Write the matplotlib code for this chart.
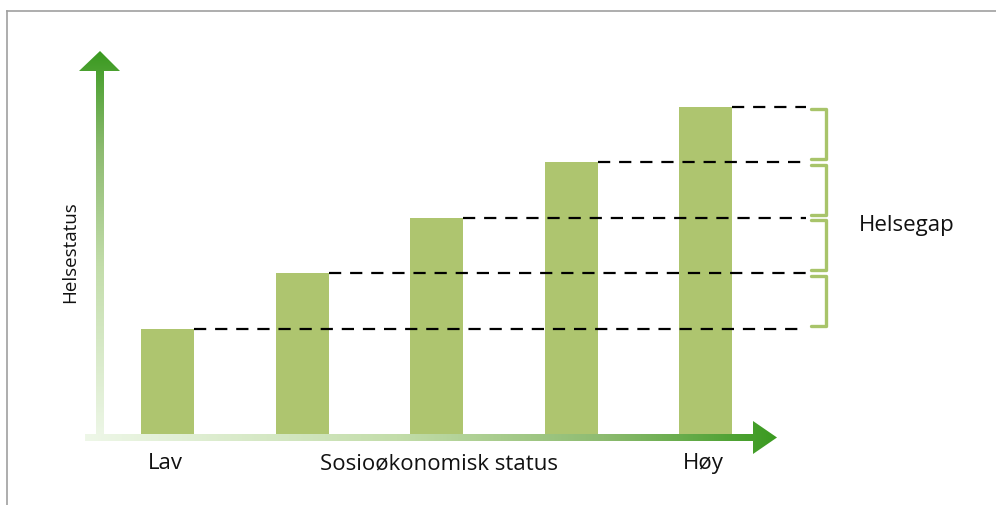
import matplotlib
matplotlib.use('Agg')
import matplotlib.pyplot as plt
import numpy as np
from matplotlib.patches import Polygon
from matplotlib.colors import LinearSegmentedColormap

# data
categories = ['1', '2', '3', '4', '5']
helsestatus = [1.9, 2.9, 3.9, 4.9, 5.9]
x_labels = ['Lav', 'Sosioøkonomisk status', 'Høy']
y_label = 'Helsestatus'
gap_label = 'Helsegap'

bar_color = '#aec56f'
brace_color = '#a8c46a'
FONT = 'Open Sans'

# pixel -> data helpers (image coords, y from top)
X0, DX = 167.5, 134.6
Y0, DY = 435.0, 55.5
def px(x):
    return (x - X0) / DX
def py(y):
    return (Y0 - y) / DY

fig = plt.figure(figsize=(9.96, 5.06), dpi=100)
ax = fig.add_axes([0, 0, 1, 1])
ax.axis('off')

# frame (top and left)
ax.plot([px(7), px(996)], [py(12), py(12)], color='#a0a0a0', lw=1.2)
ax.plot([px(7), px(7)], [py(12), py(506)], color='#a0a0a0', lw=1.2)

# bars
xpos = np.arange(len(categories))
bw = 53 / DX
ax.bar(xpos, helsestatus, width=bw, color=bar_color, zorder=2)

# dashed lines from each bar top
x_end = px(806)
for i, v in enumerate(helsestatus):
    ax.plot([xpos[i] + bw / 2, x_end], [v, v], color='black', lw=1.6,
            ls=(0, (5.5, 4)), zorder=3)

# braces between consecutive levels
xb0, xb1 = px(811), px(826)
for i in range(len(helsestatus) - 1):
    lo = helsestatus[i] + 0.05
    hi = helsestatus[i + 1] - 0.05
    ax.plot([xb0, xb1, xb1, xb0], [hi, hi, lo, lo], color=brace_color,
            lw=2.4, solid_joinstyle='round', solid_capstyle='round', zorder=3)

cmap = LinearSegmentedColormap.from_list('g', [
    (0.0, '#eef7e8'), (0.45, '#c3ddaa'), (0.75, '#8dbb70'), (1.0, '#3a9a20')])

def grad_arrow(poly_px, vertical):
    pts = [(px(a), py(b)) for a, b in poly_px]
    patch = Polygon(pts, closed=True, facecolor='none', edgecolor='none')
    ax.add_patch(patch)
    xs = [p[0] for p in pts]
    ys = [p[1] for p in pts]
    g = np.linspace(0, 1, 256)
    img = g[:, None] if vertical else g[None, :]
    im = ax.imshow(img, cmap=cmap, aspect='auto', origin='lower',
                   extent=[min(xs), max(xs), min(ys), max(ys)], zorder=4,
                   interpolation='bilinear')
    im.set_clip_path(patch)

# y arrow
grad_arrow([(96, 442), (104, 442), (104, 72), (120, 72), (100, 52),
            (79, 72), (96, 72)], vertical=True)
# x arrow
grad_arrow([(85, 435), (753, 435), (753, 422), (777, 438.5), (753, 455),
            (753, 442), (85, 442)], vertical=False)
ax.set_xlim(px(0), px(996))
ax.set_ylim(py(506), py(0))

# texts
tkw = dict(fontsize=16, family=FONT, color='#111111')
ax.text(px(165), py(464), x_labels[0], ha='center', va='center', **tkw)
ax.text(px(439), py(464), x_labels[1], ha='center', va='center', **tkw)
ax.text(px(703), py(464), x_labels[2], ha='center', va='center', **tkw)
ax.text(px(70), py(252), y_label, ha='center', va='center', rotation=90,
        fontsize=13.5, family=FONT, color='#111111')
ax.text(px(859), py(226), gap_label, ha='left', va='center', **tkw)

fig.savefig('out.png', dpi=100)
